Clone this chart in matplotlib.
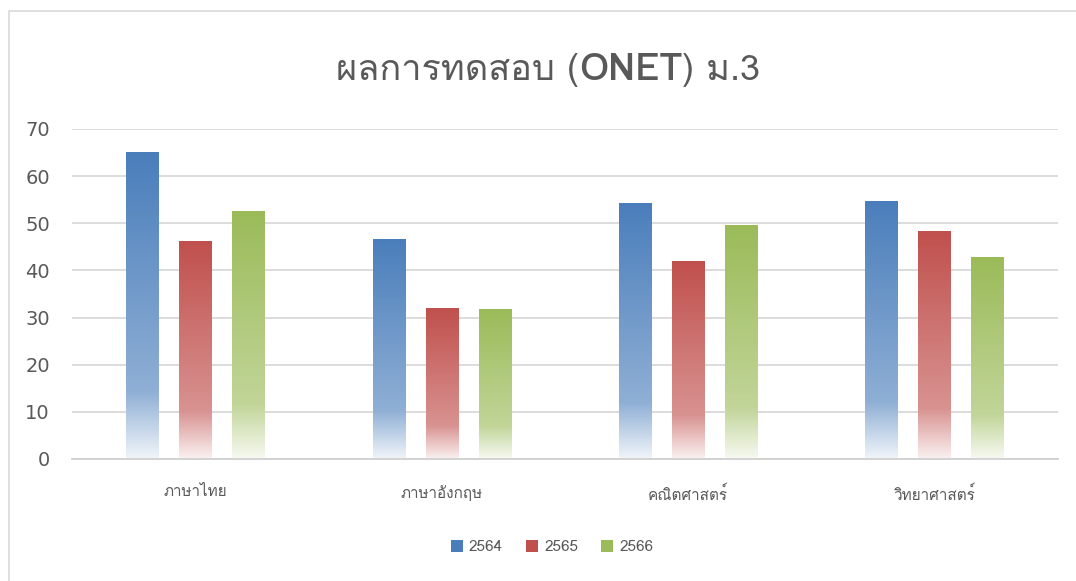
import numpy as np
import matplotlib
matplotlib.use("Agg")
import matplotlib.pyplot as plt
from matplotlib import font_manager
from matplotlib.ft2font import FT2Font
from matplotlib.colors import LinearSegmentedColormap, to_rgb
from matplotlib.patches import Rectangle, Patch

subjects = ["ภาษาไทย", "ภาษาอังกฤษ", "คณิตศาสตร์", "วิทยาศาสตร์"]
years = ["2564", "2565", "2566"]
score_2564 = [65.0, 46.6, 54.2, 54.6]
score_2565 = [46.1, 31.9, 41.8, 48.3]
score_2566 = [52.5, 31.7, 49.5, 42.7]
yticks = [0, 10, 20, 30, 40, 50, 60, 70]
colors = ["#4a7ebb", "#c0504d", "#9bbb59"]


# find a font that can draw Thai
def thai_family():
    for f in font_manager.fontManager.ttflist:
        try:
            if 0x0E01 in FT2Font(f.fname).get_charmap():
                return f.name
        except Exception:
            pass
    return None

fam = thai_family()
families = ([fam] if fam else []) + ["DejaVu Sans"]
plt.rcParams["font.family"] = families

grey = "#595959"
fig = plt.figure(figsize=(10.76, 5.81), dpi=100)
ax = fig.add_axes([0.0669, 0.21, 0.9161, 0.568])

# outer chart border (only left/top visible in the crop)
fig.patches.append(Rectangle((8.5 / 1076, -0.1), 1.2, 1 - 10.5 / 581 + 0.1,
                             transform=fig.transFigure, fill=False,
                             edgecolor="#d9d9d9", lw=1.2))

x = np.arange(len(subjects))
width = 0.13
offsets = [-0.215, 0.0, 0.215]
series = [score_2564, score_2565, score_2566]


def gradient_cmap(c):
    r = np.array(to_rgb(c))
    w = np.ones(3)
    mid = r + (w - r) * 0.38
    bot = r + (w - r) * 0.92
    return LinearSegmentedColormap.from_list(
        "g", [(0.0, bot), (0.22, mid), (1.0, r)])


grad = np.linspace(0, 1, 256).reshape(-1, 1)
for vals, off, c in zip(series, offsets, colors):
    cmap = gradient_cmap(c)
    for xi, v in zip(x, vals):
        x0 = xi + off - width / 2
        ax.imshow(grad, cmap=cmap, origin="lower", aspect="auto",
                  extent=(x0, x0 + width, 0, v), zorder=2,
                  interpolation="bilinear")

ax.set_xlim(-0.5, 3.5)
ax.set_ylim(0, 70)
ax.set_yticks(yticks)
ax.set_xticks(x)
ax.set_xticklabels(subjects, fontsize=11, color=grey)
ax.tick_params(axis="y", labelsize=14, colors=grey, length=0, pad=16)
ax.tick_params(axis="x", length=0, pad=19)
for lab in ax.get_yticklabels():
    lab.set_family(["DejaVu Sans"])
ax.grid(axis="y", color="#d9d9d9", lw=1.3, zorder=0)
ax.set_axisbelow(True)
for s in ["top", "right", "left"]:
    ax.spines[s].set_visible(False)
ax.spines["bottom"].set_color("#d0d0d0")
ax.spines["bottom"].set_linewidth(1.3)

# title with bold ONET
fig.canvas.draw()
r = fig.canvas.get_renderer()
parts = [("ผลการทดสอบ (", "medium", 26), ("ONET", "bold", 27), (") ม.3", "medium", 26)]
texts = []
for s, w, fs in parts:
    t = fig.text(0, 0, s, fontsize=fs, fontweight=w, color=grey,
                 family=families, va="baseline")
    texts.append(t)
widths = [t.get_window_extent(r).width for t in texts]
total = sum(widths)
cur = 548 - total / 2
for t, wd in zip(texts, widths):
    t.set_position((cur / 1076, 1 - 80 / 581))
    cur += wd

handles = [Patch(facecolor=c, edgecolor="none", label=y) for c, y in zip(colors, years)]
fig.legend(handles=handles, loc="center", bbox_to_anchor=(552 / 1076, 1 - 547 / 581),
           ncol=3, frameon=False, fontsize=11, labelcolor=grey,
           handlelength=0.8, handleheight=0.8, handletextpad=0.4, columnspacing=1.5)

fig.savefig("out.png", dpi=100)
